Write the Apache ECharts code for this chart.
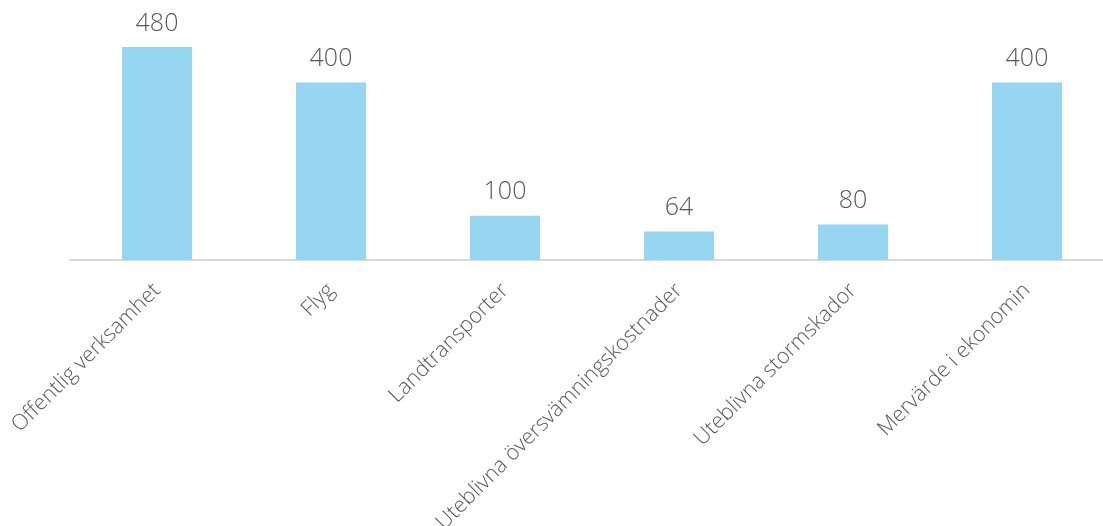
<!DOCTYPE html>
<html>
<head>
<meta charset="utf-8">
<script src="https://cdn.jsdelivr.net/npm/echarts@6/dist/echarts.min.js"></script>
<style>
html,body{margin:0;padding:0;background:#fff;}
#wrap{width:1103px;height:526px;overflow:hidden;position:relative;}
#chart{position:absolute;left:0;top:0;width:1114px;height:526px;}
</style>
</head>
<body>
<div id="wrap"><div id="chart"></div></div>
<script>
// kategorier och värden
let categories = ['Offentlig verksamhet', 'Flyg', 'Landtransporter', 'Uteblivna översvämningskostnader', 'Uteblivna stormskador', 'Mervärde i ekonomin'];
let values = [480, 400, 100, 64, 80, 400];

// diagrammet är lite bredare än fönstret, högra kanten klipps som i originalet
let chart = echarts.init(document.getElementById('chart'));
let option = {
    animation: false,
    grid: {
        left: 70,
        right: 0,
        top: 47,
        bottom: 266,
        containLabel: false,
        outerBoundsMode: 'none'
    },
    xAxis: {
        type: 'category',
        data: categories,
        axisLine: {lineStyle: {color: '#d9d9d9', width: 2}},
        axisTick: {show: false},
        axisLabel: {
            interval: 0,
            rotate: 45,
            margin: 27,
            color: '#595959',
            fontFamily: 'Open Sans',
            fontWeight: 300,
            fontSize: 21.5
        }
    },
    yAxis: {
        type: 'value',
        min: 0,
        max: 480,
        show: false,
        splitLine: {show: false}
    },
    series: [{
        type: 'bar',
        data: values,
        barWidth: 70,
        itemStyle: {color: '#97d6f0'},
        label: {
            show: true,
            position: 'top',
            distance: 11,
            color: '#595959',
            fontFamily: 'Open Sans',
            fontWeight: 300,
            fontSize: 25
        }
    }]
};
chart.setOption(option);
</script>
</body>
</html>
